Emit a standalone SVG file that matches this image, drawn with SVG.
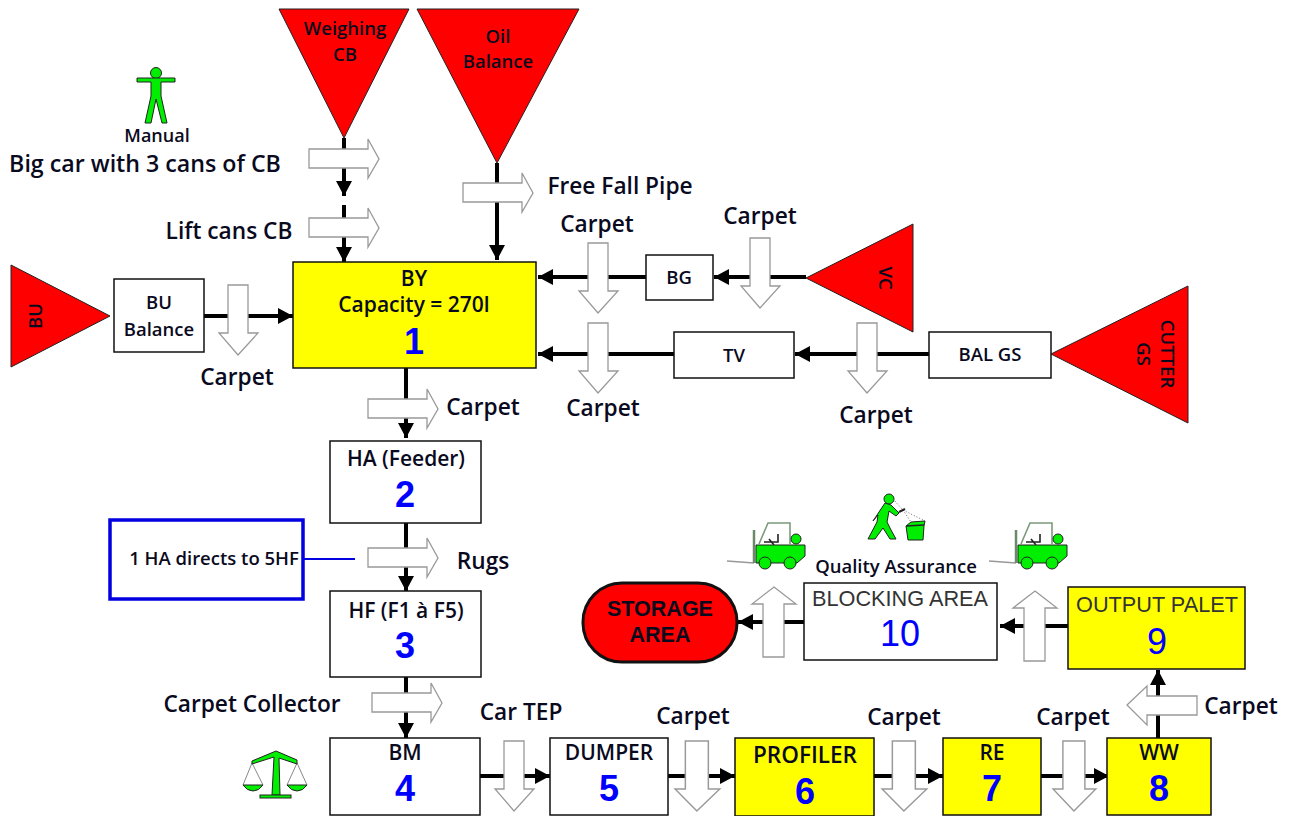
<svg xmlns="http://www.w3.org/2000/svg" width="1293" height="816" viewBox="0 0 1293 816">
<style>
text{font-family:"Open Sans","Noto Sans","Liberation Sans",sans-serif;font-weight:600;fill:#0a0a1e;text-anchor:middle}
.tri{fill:#ff0000;stroke:#222;stroke-width:1}
.box{fill:#fff;stroke:#111;stroke-width:1.5}
.yel{fill:#ffff00;stroke:#111;stroke-width:1.5}
.lab{font-size:22.7px}
.s{font-size:21px}
.t{font-size:18.5px}
.num{font-family:"Liberation Sans",Arial,sans-serif;font-weight:700;font-size:36px;fill:#0000ff}
.thin{font-family:"Liberation Sans",Arial,sans-serif;font-weight:400;font-size:21.7px;fill:#333}
.thinnum{font-family:"Liberation Sans",Arial,sans-serif;font-weight:400;font-size:36px;fill:#0000ff}
.ln{stroke:#000;stroke-width:4;fill:none;marker-end:url(#ah)}
.ba{fill:#fff;stroke:#999;stroke-width:1.3}
.g{fill:#00ee00;stroke:#222;stroke-width:1}
.gl{fill:none;stroke:#888;stroke-width:1}
</style>
<defs>
<marker id="ah" markerUnits="userSpaceOnUse" markerWidth="16" markerHeight="18" refX="15" refY="9" orient="auto"><path d="M0 1L15 9L0 17Z" fill="#000"/></marker>
<path id="ra" d="M0 10H59V0L70 20L59 39V29H0Z"/>
<path id="da" d="M9 0H29V48H39L19 70L0 48H9Z"/>
<path id="ua" d="M22 0L44 17H32V70H11V17H0Z"/>
<path id="la" d="M70 10H20V0L0 19L20 39V29H70Z"/>
<g id="lift">
<path d="M0 39L27 41" stroke="#999" stroke-width="1.5" fill="none"/>
<path d="M27 8V41" stroke="#6a8a6a" stroke-width="2.5" fill="none"/>
<path d="M32 22L41 1H63V22" stroke="#7a9a7a" stroke-width="1.6" fill="none"/>
<path d="M37 20H51V12M42 17L47 23" stroke="#222" stroke-width="1.6" fill="none"/>
<circle class="g" cx="69" cy="17" r="5"/>
<path class="g" d="M29 23H78V34L70 41H29Z"/>
<circle class="g" cx="38" cy="41" r="6"/>
<circle class="g" cx="63" cy="41" r="6"/>
</g>
</defs>

<g id="connectors">
<path class="ln" d="M344 138V196"/>
<path class="ln" d="M344 205V262"/>
<path class="ln" d="M497 163V260"/>
<path class="ln" d="M204 316H293"/>
<path class="ln" d="M646 277H538"/>
<path class="ln" d="M806 277H714"/>
<path class="ln" d="M674 354H538"/>
<path class="ln" d="M929 354H795"/>
<path class="ln" d="M406 368V438"/>
<path class="ln" d="M406 523V591"/>
<path class="ln" d="M406 677V738"/>
<path class="ln" d="M480 776H550"/>
<path class="ln" d="M668 776H735"/>
<path class="ln" d="M874 776H943"/>
<path class="ln" d="M1041 776H1109"/>
<path class="ln" d="M1158 738V670"/>
<path class="ln" d="M1068 626H1000"/>
<path class="ln" d="M804 622H738"/>
<path d="M303 559H355" stroke="#0000e0" stroke-width="2" fill="none"/>
<use href="#ra" class="ba" x="309" y="139"/>
<use href="#ra" class="ba" x="309" y="208"/>
<use href="#ra" class="ba" x="463" y="173"/>
<use href="#ra" class="ba" x="368" y="389"/>
<use href="#ra" class="ba" x="368" y="538"/>
<use href="#ra" class="ba" x="372" y="683"/>
<use href="#da" class="ba" x="219" y="285"/>
<use href="#da" class="ba" x="579" y="243"/>
<use href="#da" class="ba" x="741" y="238"/>
<use href="#da" class="ba" x="579" y="323"/>
<use href="#da" class="ba" x="848" y="323"/>
<use href="#da" class="ba" transform="translate(495 741)"/>
<use href="#da" class="ba" transform="translate(675 741) scale(1.15 1)"/>
<use href="#da" class="ba" transform="translate(882 741) scale(1.15 1)"/>
<use href="#da" class="ba" transform="translate(1053 741) scale(1.1 1)"/>
<use href="#ua" class="ba" x="752" y="587"/>
<use href="#ua" class="ba" x="1013" y="591"/>
<use href="#la" class="ba" x="1127" y="686"/>
</g>

<g id="weighing"><path class="tri" d="M279 9H409L344 138Z"/><text class="t" x="345" y="35">Weighing</text><text class="t" x="345" y="61">CB</text></g>
<g id="oil"><path class="tri" d="M417 9H579L497 163Z"/><text class="t" x="498" y="43">Oil</text><text class="t" x="498" y="68">Balance</text></g>
<g id="bu"><path class="tri" d="M11 265V367L110 316Z"/><text class="t" transform="translate(42 316) rotate(-90)">BU</text></g>
<g id="vc"><path class="tri" d="M806 278L913 224V332Z"/><text class="t" transform="translate(879 278) rotate(90)">VC</text></g>
<g id="cutter"><path class="tri" d="M1051 354L1188 286V423Z"/><text class="t" transform="translate(1161 354) rotate(90)">CUTTER</text><text class="t" transform="translate(1137 354) rotate(90)">GS</text></g>

<g id="bu-balance"><rect class="box" x="114" y="279" width="90" height="73"/><text class="t" x="159" y="309">BU</text><text class="t" x="159" y="336">Balance</text></g>
<g id="by"><rect class="yel" x="293" y="262" width="243" height="106"/><text class="s" x="414" y="286">BY</text><text class="s" x="414" y="312">Capacity = 270l</text><text class="num" x="414" y="354">1</text></g>
<g id="bg"><rect class="box" x="646" y="255" width="67" height="45"/><text class="t" x="679" y="284">BG</text></g>
<g id="tv"><rect class="box" x="674" y="332" width="120" height="46"/><text class="t" x="734" y="362">TV</text></g>
<g id="balgs"><rect class="box" x="929" y="332" width="122" height="46"/><text class="t" x="990" y="361">BAL GS</text></g>
<g id="ha"><rect class="box" x="330" y="441" width="151" height="82"/><text class="s" x="406" y="466">HA (Feeder)</text><text class="num" x="405" y="507">2</text></g>
<g id="note"><rect x="110" y="520" width="193" height="79" fill="#fff" stroke="#0000e0" stroke-width="3.5"/><text class="t" x="214" y="565">1 HA directs to 5HF</text></g>
<g id="hf"><rect class="box" x="330" y="591" width="151" height="86"/><text class="s" x="406" y="618">HF (F1 à F5)</text><text class="num" x="405" y="658">3</text></g>
<g id="bm"><rect class="box" x="330" y="738" width="150" height="77"/><text class="s" x="405" y="760">BM</text><text class="num" x="405" y="801">4</text></g>
<g id="dumper"><rect class="box" x="550" y="738" width="118" height="77"/><text class="s" x="609" y="760">DUMPER</text><text class="num" x="609" y="801">5</text></g>
<g id="profiler"><rect class="yel" x="735" y="738" width="139" height="78"/><text class="s" x="805" y="763" style="font-size:22.5px">PROFILER</text><text class="num" x="805" y="804">6</text></g>
<g id="re"><rect class="yel" x="943" y="738" width="98" height="77"/><text class="s" x="992" y="760">RE</text><text class="num" x="992" y="801">7</text></g>
<g id="ww"><rect class="yel" x="1107" y="738" width="104" height="77"/><text class="s" x="1159" y="760">WW</text><text class="num" x="1159" y="801">8</text></g>
<g id="output"><rect class="yel" x="1068" y="587" width="177" height="82"/><text class="thin" x="1157" y="612">OUTPUT PALET</text><text class="thinnum" x="1157" y="654">9</text></g>
<g id="blocking"><rect class="box" x="804" y="583" width="193" height="77"/><text class="thin" x="900" y="606">BLOCKING AREA</text><text class="thinnum" x="900" y="646">10</text></g>
<g id="storage"><rect x="583" y="583" width="154" height="79" rx="39" fill="#ff0000" stroke="#111" stroke-width="3"/><text x="660" y="616" style="font-size:21.5px;font-family:'Liberation Sans',sans-serif;font-weight:700">STORAGE</text><text x="660" y="642" style="font-size:21.5px;font-family:'Liberation Sans',sans-serif;font-weight:700">AREA</text></g>

<g id="labels">
<text class="t" x="157" y="142" style="font-size:18px">Manual</text>
<text class="lab" x="145" y="172" style="font-size:23.2px">Big car with 3 cans of CB</text>
<text class="lab" x="229" y="239">Lift cans CB</text>
<text class="lab" x="620" y="194">Free Fall Pipe</text>
<text class="lab" x="597" y="232">Carpet</text>
<text class="lab" x="760" y="224">Carpet</text>
<text class="lab" x="237" y="385">Carpet</text>
<text class="lab" x="603" y="416">Carpet</text>
<text class="lab" x="876" y="423">Carpet</text>
<text class="lab" x="483" y="415">Carpet</text>
<text class="lab" x="483" y="569">Rugs</text>
<text class="lab" x="252" y="712">Carpet Collector</text>
<text class="lab" x="521" y="720">Car TEP</text>
<text class="lab" x="693" y="724">Carpet</text>
<text class="lab" x="904" y="725">Carpet</text>
<text class="lab" x="1073" y="725">Carpet</text>
<text class="lab" x="1241" y="714">Carpet</text>
<text class="t" x="896" y="573">Quality Assurance</text>
</g>

<g id="icon-person"><circle class="g" cx="156" cy="73" r="5.5"/><path class="g" d="M137 78H175V82H161V96L167 123H162L156 99L151 123H145L151 96V82H137Z"/></g>
<g id="icon-scale">
<path class="gl" d="M252 763L243 785M252 763L263 785M297 763L287 785M297 763L307 785"/>
<path class="g" d="M243 785H263Q259 791 253 791Q247 791 243 785ZM287 785H307Q303 791 297 791Q291 791 287 785Z"/>
<path class="g" d="M252 761L276 751L297 760V764L279 758L280 795H272L274 757L252 764Z"/>
<rect class="g" x="260" y="795" width="31" height="3"/>
</g>
<use id="icon-lift1" href="#lift" x="727" y="522"/>
<use id="icon-lift2" href="#lift" x="989" y="522"/>
<g id="icon-qa">
<circle class="g" cx="889" cy="499" r="5"/>
<path class="g" d="M885 503L891 505L899 513L896 516L889 511L887 522L891 530L896 539H890L883 528L875 539H868L877 522L878 515L873 521Z"/>
<path d="M893 499L903 510L925 521M903 510L911 522" stroke="#666" stroke-dasharray="1 2" fill="none"/>
<path class="g" d="M906 526L911 522L925 521L924 526L923 540H908Z"/>
<path d="M906 526L924 525" stroke="#222" stroke-width="1.5"/>
<path d="M899 512L905 509" stroke="#222" stroke-width="2"/>
</g>
</svg>
